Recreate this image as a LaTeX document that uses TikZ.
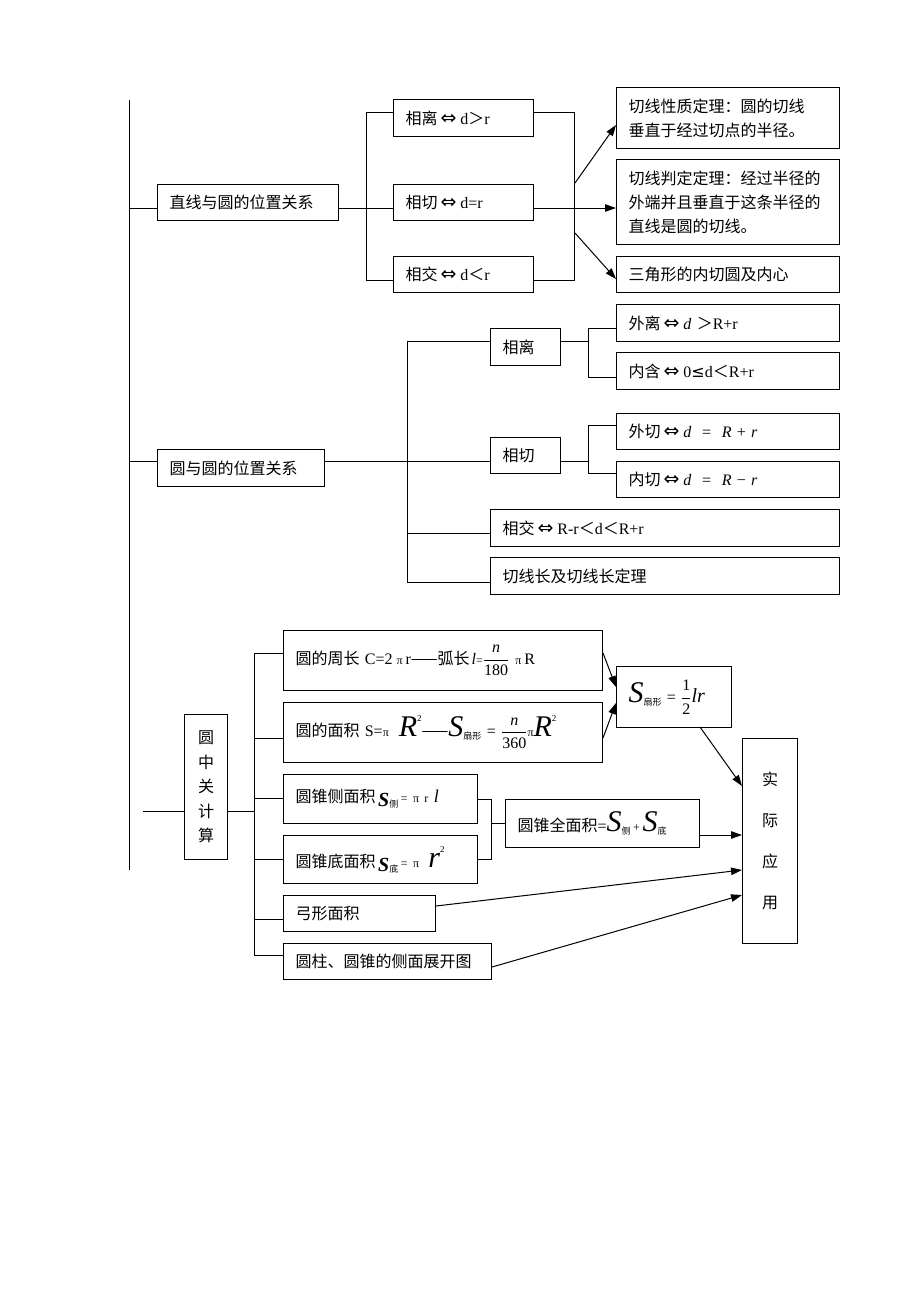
\documentclass[tikz,border=0pt]{standalone}
\usepackage{fontspec}
\setmainfont{Noto Sans CJK SC}
\newfontfamily\tm{Liberation Serif}
\newfontfamily\dv{DejaVu Sans}
\usetikzlibrary{arrows.meta,calc}
\tikzset{
  box/.style={draw, line width=1pt, inner xsep=12pt, inner ysep=0pt, anchor=north west, align=left, font=\fontsize{16}{24}\selectfont},
  ln/.style={line width=1pt},
  arr/.style={line width=1pt, -{Triangle[length=11pt,width=7.5pt]}},
}
\newcommand\bx[7][]{%
  \pgfmathsetmacro\bw{#5-#3}\pgfmathsetmacro\bh{#6-#4}\pgfmathsetmacro\tw{#5-#3-24}%
  \node[box, minimum width=\bw pt, minimum height=\bh pt, text width=\tw pt, #1] (#2) at (#3,#4) {#7};}
\newcommand\eqv{\hspace{3pt}{\dv\fontsize{19}{19}\selectfont ⇔}\hspace{4pt}}
\newcommand\smpi[1]{{\tm\fontsize{#1}{#1}\selectfont π}}
\newcommand\bigit[2]{{\tm\itshape\fontsize{#1}{#1}\selectfont #2}}
\newcommand\subr[1]{\raisebox{-3pt}{\fontsize{9}{9}\selectfont #1}}
\newcommand\supr[1]{\raisebox{15pt}{\tm\fontsize{9}{9}\selectfont #1}}
\begin{document}
\begin{tikzpicture}[x=1pt,y=-1pt]
\useasboundingbox (0,0) rectangle (920,1302);

% main trunk
\coordinate (top) at (129,100);
\coordinate (bot) at (129,870);
\draw[ln] (top) -- (bot);

% ---------- part 1 ----------
\bx{L1}{157}{184}{338}{220}{直线与圆的位置关系}
\bx{A1}{393}{99}{533}{136}{相离\eqv{\tm d}＞{\tm r}}
\bx{A2}{393}{184}{533}{220}{相切\eqv{\tm d=r}}
\bx{A3}{393}{256}{533}{292}{相交\eqv{\tm d}＜{\tm r}}
\bx{T1}{616}{87}{839}{148}{切线性质定理：圆的切线\\垂直于经过切点的半径。}
\bx{T2}{616}{159}{839}{244}{切线判定定理：经过半径的\\外端并且垂直于这条半径的\\直线是圆的切线。}
\bx{T3}{616}{256}{839}{292}{三角形的内切圆及内心}

\coordinate (j1) at (129,208);
\coordinate (b1) at (366,112);
\coordinate (b3) at (366,280);
\coordinate (r1) at (574,112);
\coordinate (r3) at (574,280);
\coordinate (s1) at (575,183);
\coordinate (s3) at (575,233);
\draw[ln] (j1) -- (j1 -| L1.west);
\draw[ln] (L1.east |- j1) -- (j1 -| A2.west);
\draw[ln] (A1.west |- b1) -- (b1) -- (b3) -- (A3.west |- b3);
\draw[ln] (A1.east |- r1) -- (r1) -- (r3) -- (A3.east |- r3);
\draw[arr] (A2.east |- j1) -- (j1 -| T2.west);
\draw[arr] (s1) -- (T1.west |- 0,125);
\draw[arr] (s3) -- (T3.west |- 0,279);

% ---------- part 2 ----------
\bx{L2}{157}{449}{324}{486}{圆与圆的位置关系}
\bx{B1}{490}{328}{560}{365}{相离}
\bx{B2}{490}{437}{560}{473}{相切}
\bx{B3}{490}{509}{839}{546}{相交\eqv{\tm R-r}＜{\tm d}＜{\tm R+r}}
\bx{B4}{490}{557}{839}{594}{切线长及切线长定理}
\bx{C1}{616}{304}{839}{341}{外离\eqv{\tm\itshape d} ＞{\tm R+r}}
\bx{C2}{616}{352}{839}{389}{内含\eqv{\tm 0}{\dv ≤}{\tm d}＜{\tm R+r}}
\bx{C3}{616}{413}{839}{449}{外切\eqv\mbox{\tm\itshape d\ \ \upshape=\ \ \itshape R\ \upshape+\ \itshape r}}
\bx{C4}{616}{461}{839}{497}{内切\eqv\mbox{\tm\itshape d\ \ \upshape=\ \ \itshape R\ \upshape−\ \itshape r}}

\coordinate (j2) at (129,461);
\coordinate (v1) at (407,341);
\coordinate (v2) at (407,582);
\coordinate (v3) at (407,533);
\coordinate (p1) at (588,328);
\coordinate (p2) at (588,377);
\coordinate (q1) at (588,425);
\coordinate (q2) at (588,473);
\draw[ln] (j2) -- (j2 -| L2.west);
\draw[ln] (L2.east |- j2) -- (j2 -| B2.west);
\draw[ln] (B1.west |- v1) -- (v1) -- (v2) -- (B4.west |- v2);
\draw[ln] (v3) -- (v3 -| B3.west);
\draw[ln] (B1.east |- v1) -- (v1 -| p1);
\draw[ln] (C1.west |- p1) -- (p1) -- (p2) -- (C2.west |- p2);
\draw[ln] (B2.east |- j2) -- (j2 -| q1);
\draw[ln] (C3.west |- q1) -- (q1) -- (q2) -- (C4.west |- q2);

% ---------- part 3 ----------
\bx[align=center, font=\fontsize{16}{24.5}\selectfont]{D0}{184}{714}{227}{859}{圆\\中\\关\\计\\算}
\bx{E1}{283}{630}{602}{690}{\mbox{圆的周长 {\tm C=2}\hspace{4pt}\smpi{12}\hspace{3pt}{\tm r}——弧长\hspace{2pt}{\tm\itshape l}{\tm\fontsize{12}{12}\selectfont =}$\displaystyle\frac{\mbox{\tm\itshape n}}{\mbox{\tm 180}}$\hspace{6pt}\smpi{12}\hspace{3pt}{\tm R}}}
\bx{E2}{283}{702}{602}{762}{\mbox{圆的面积 {\tm S=}\smpi{12}\hspace{10pt}\bigit{30}{R}\supr{2}——\bigit{30}{S}\subr{扇形}{\tm\ =\ }$\displaystyle\frac{\mbox{\tm\itshape n}}{\mbox{\tm 360}}$\smpi{12}\bigit{30}{R}\supr{2}}}
\bx{E3}{283}{774}{477}{823}{\mbox{圆锥侧面积\,\raisebox{-4pt}{\bigit{20}{\bfseries S}}\raisebox{-5pt}{\fontsize{9}{9}\selectfont 侧}\,{\tm\fontsize{12}{12}\selectfont = π r }\bigit{18}{l}}}
\bx{E4}{283}{835}{477}{883}{\mbox{圆锥底面积\,\raisebox{-4pt}{\bigit{20}{\bfseries S}}\raisebox{-5pt}{\fontsize{9}{9}\selectfont 底}\,{\tm\fontsize{12}{12}\selectfont = π }\hspace{4pt}\bigit{30}{r}\supr{2}}}
\bx{E5}{283}{895}{435}{931}{弓形面积}
\bx{E6}{283}{943}{491}{979}{圆柱、圆锥的侧面展开图}
\bx{F}{505}{799}{699}{847}{\mbox{圆锥全面积{\tm =}\bigit{30}{S}\subr{侧}\,{\tm\fontsize{12}{12}\selectfont +}\,\bigit{30}{S}\subr{底}}}
\bx{G}{616}{666}{731}{727}{\mbox{\bigit{30}{S}\subr{扇形}{\tm\ =\ }$\displaystyle\frac{\mbox{\tm 1}}{\mbox{\tm 2}}$\bigit{20}{lr}}}
\bx[align=center, font=\fontsize{16}{41}\selectfont]{H}{742}{738}{797}{943}{实\\际\\应\\用}

\coordinate (k0) at (143,811);
\coordinate (w1) at (254,653);
\coordinate (w2) at (254,955);
\coordinate (wk) at (254,811);
\coordinate (m1) at (254,738);
\coordinate (m2) at (254,798);
\coordinate (m3) at (254,859);
\coordinate (m4) at (254,919);
\coordinate (g1) at (491,799);
\coordinate (g2) at (491,859);
\coordinate (g3) at (491,823);
\draw[ln] (k0) -- (k0 -| D0.west);
\draw[ln] (D0.east |- k0) -- (wk);
\draw[ln] (E1.west |- w1) -- (w1) -- (w2) -- (E6.west |- w2);
\draw[ln] (m1) -- (m1 -| E2.west);
\draw[ln] (m2) -- (m2 -| E3.west);
\draw[ln] (m3) -- (m3 -| E4.west);
\draw[ln] (m4) -- (m4 -| E5.west);
\draw[ln] (E3.east |- g1) -- (g1) -- (g2) -- (E4.east |- g2);
\draw[ln] (g3) -- (g3 -| F.west);
\draw[arr] (E1.east |- 0,653) -- (G.west |- 0,687);
\draw[arr] (E2.east |- 0,738) -- (G.west |- 0,703);
\draw[arr] (700,727) -- (H.west |- 0,786);
\draw[arr] (F.east |- 0,835) -- (H.west |- 0,835);
\draw[arr] (E5.east |- 0,906) -- (H.west |- 0,870);
\draw[arr] (E6.east |- 0,967) -- (H.west |- 0,895);
\end{tikzpicture}
\end{document}
